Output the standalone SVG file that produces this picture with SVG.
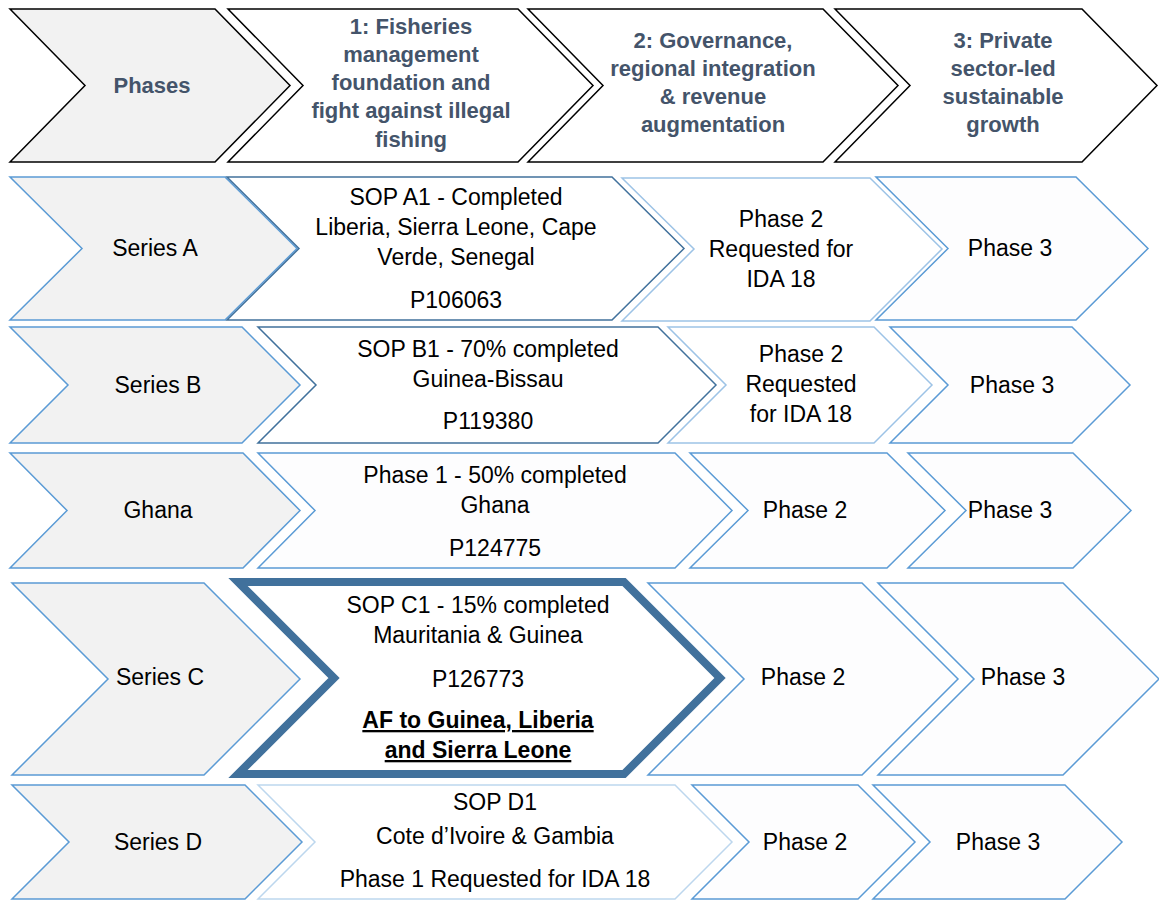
<svg xmlns="http://www.w3.org/2000/svg" width="1159" height="901" viewBox="0 0 1159 901">
<style>
.hdr{fill:#f2f2f2;stroke:#000;stroke-width:1.5}
.hbox{fill:#fff;stroke:#000;stroke-width:1.5}
.ser{fill:#f2f2f2;stroke:#5b9bd5;stroke-width:1.5}
.dark{fill:#fff;stroke:#41719c;stroke-width:1.5}
.lite{fill:#fff;stroke:#9dc3e6;stroke-width:1.5}
.mid{fill:#fdfdfe;stroke:#5b9bd5;stroke-width:1.5}
.thick{fill:#fff;stroke:#41719c;stroke-width:8}
.pale{fill:#fff;stroke:#bdd7ee;stroke-width:1.5}
text{font-family:"Liberation Sans",Arial,sans-serif;text-anchor:middle}
.ht{font-size:22px;font-weight:bold;fill:#44546a}
.bt{font-size:23px;fill:#000}
.bb{font-size:23px;font-weight:bold;fill:#000;text-decoration:underline}
</style>
<g id="header">
<g id="h-phases"><polygon class="hdr" points="10,9 215,9 290,85.5 215,162 10,162 85,85.5"/><text class="ht" x="152" y="93">Phases</text></g>
<g id="h-1"><polygon class="hbox" points="228,9 518,9 593,85.5 518,162 228,162 303,85.5"/>
<text class="ht" x="411" y="34">1: Fisheries</text><text class="ht" x="411" y="62">management</text><text class="ht" x="411" y="90">foundation and</text><text class="ht" x="411" y="118">fight against illegal</text><text class="ht" x="411" y="147">fishing</text></g>
<g id="h-2"><polygon class="hbox" points="528,9 823,9 898,85.5 823,162 528,162 603,85.5"/>
<text class="ht" x="713" y="48">2: Governance,</text><text class="ht" x="713" y="76">regional integration</text><text class="ht" x="713" y="104">&amp; revenue</text><text class="ht" x="713" y="132">augmentation</text></g>
<g id="h-3"><polygon class="hbox" points="835,9 1082,9 1157,85.5 1082,162 835,162 910,85.5"/>
<text class="ht" x="1003" y="48">3: Private</text><text class="ht" x="1003" y="76">sector-led</text><text class="ht" x="1003" y="104">sustainable</text><text class="ht" x="1003" y="132">growth</text></g>
</g>
<g id="row-a">
<g id="a-series"><polygon class="ser" points="10,177 225,177 297,248.5 225,320 10,320 82,248.5"/><text class="bt" x="155" y="256">Series A</text></g>
<g id="a-1"><polygon class="dark" points="227,177 612,177 684,248.5 612,320 227,320 299,248.5"/>
<text class="bt" x="456" y="205">SOP A1 - Completed</text><text class="bt" x="456" y="235">Liberia, Sierra Leone, Cape</text><text class="bt" x="456" y="265">Verde, Senegal</text><text class="bt" x="456" y="308">P106063</text></g>
<g id="a-2"><polygon class="lite" points="622,178 870,178 942,249 870,321 622,321 694,249"/>
<text class="bt" x="781" y="227">Phase 2</text><text class="bt" x="781" y="257">Requested for</text><text class="bt" x="781" y="287">IDA 18</text></g>
<g id="a-3"><polygon class="mid" points="876,177 1076,177 1148,248.5 1076,320 876,320 948,248.5"/><text class="bt" x="1010" y="256">Phase 3</text></g>
</g>
<g id="row-b">
<g id="b-series"><polygon class="ser" points="10,327 242,327 300,385 242,443 10,443 68,385"/><text class="bt" x="158" y="393">Series B</text></g>
<g id="b-1"><polygon class="dark" points="258,327 658,327 716,385 658,443 258,443 316,385"/>
<text class="bt" x="488" y="357">SOP B1 - 70% completed</text><text class="bt" x="488" y="387">Guinea-Bissau</text><text class="bt" x="488" y="429">P119380</text></g>
<g id="b-2"><polygon class="lite" points="668,327 874,327 932,385 874,443 668,443 726,385"/>
<text class="bt" x="801" y="362">Phase 2</text><text class="bt" x="801" y="392">Requested</text><text class="bt" x="801" y="422">for IDA 18</text></g>
<g id="b-3"><polygon class="mid" points="890,327 1072,327 1130,385 1072,443 890,443 948,385"/><text class="bt" x="1012" y="393">Phase 3</text></g>
</g>
<g id="row-ghana">
<g id="g-series"><polygon class="ser" points="10,453 243,453 300,510.5 243,568 10,568 67,510.5"/><text class="bt" x="158" y="518">Ghana</text></g>
<g id="g-1"><polygon class="mid" points="258,453 675,453 732,510.5 675,568 258,568 315,510.5"/>
<text class="bt" x="495" y="483">Phase 1 - 50% completed</text><text class="bt" x="495" y="513">Ghana</text><text class="bt" x="495" y="556">P124775</text></g>
<g id="g-2"><polygon class="mid" points="690,453 887,453 945,510.5 887,568 690,568 748,510.5"/><text class="bt" x="805" y="518">Phase 2</text></g>
<g id="g-3"><polygon class="mid" points="908,453 1073,453 1131,510.5 1073,568 908,568 966,510.5"/><text class="bt" x="1010" y="518">Phase 3</text></g>
</g>
<g id="row-c">
<g id="c-series"><polygon class="ser" points="12,583 204,583 300,679 204,775 12,775 108,679"/><text class="bt" x="160" y="685">Series C</text></g>
<g id="c-1"><polygon class="thick" points="238,582 624,582 720,678 624,774 238,774 334,678"/>
<text class="bt" x="478" y="613">SOP C1 - 15% completed</text><text class="bt" x="478" y="643">Mauritania &amp; Guinea</text><text class="bt" x="478" y="687">P126773</text><text class="bb" x="478" y="728">AF to Guinea, Liberia</text><text class="bb" x="478" y="758">and Sierra Leone</text></g>
<g id="c-2"><polygon class="mid" points="648,583 862,583 958,679 862,775 648,775 744,679"/><text class="bt" x="803" y="685">Phase 2</text></g>
<g id="c-3"><polygon class="mid" points="878,583 1063,583 1159,679 1063,775 878,775 974,679"/><text class="bt" x="1023" y="685">Phase 3</text></g>
</g>
<g id="row-d">
<g id="d-series"><polygon class="ser" points="12,785 245,785 302,842 245,899 12,899 69,842"/><text class="bt" x="158" y="850">Series D</text></g>
<g id="d-1"><polygon class="pale" points="258,785 675,785 732,842 675,899 258,899 315,842"/>
<text class="bt" x="495" y="810">SOP D1</text><text class="bt" x="495" y="844">Cote d’Ivoire &amp; Gambia</text><text class="bt" x="495" y="887">Phase 1 Requested for IDA 18</text></g>
<g id="d-2"><polygon class="mid" points="692,785 858,785 915,842 858,899 692,899 749,842"/><text class="bt" x="805" y="850">Phase 2</text></g>
<g id="d-3"><polygon class="mid" points="873,785 1065,785 1122,842 1065,899 873,899 930,842"/><text class="bt" x="998" y="850">Phase 3</text></g>
</g>
<g id="connectors"/>
</svg>
